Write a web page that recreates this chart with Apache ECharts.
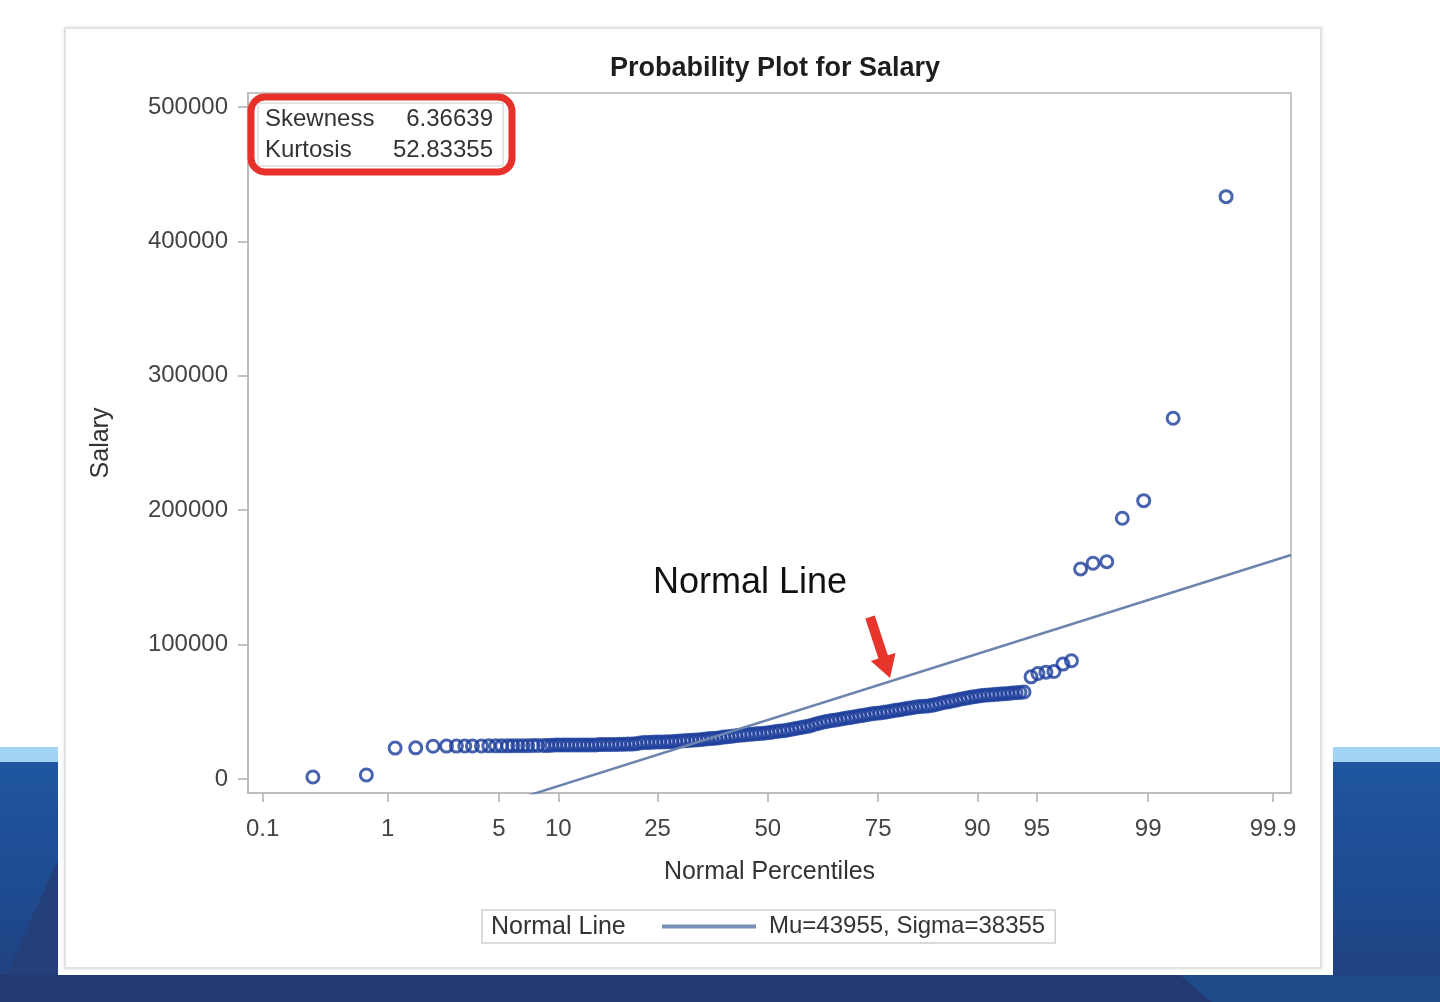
<!DOCTYPE html>
<html>
<head>
<meta charset="utf-8">
<script src="https://cdn.jsdelivr.net/npm/echarts@6/dist/echarts.min.js"></script>
<style>
html,body{margin:0;padding:0;width:1440px;height:1002px;overflow:hidden;background:#fff;}
.abs{position:absolute;}
#stripe{left:0;top:747px;width:1440px;height:15px;background:#a3d4f3;}
#dark{left:0;top:762px;width:1440px;height:240px;background:linear-gradient(180deg,#1f55a0 0%,#1e4b90 55%,#22407c 100%);}
#triL{left:0;top:860px;width:58px;height:142px;background:#24407a;clip-path:polygon(100% 0,100% 100%,0 100%,0 90%);}
#bottom{left:0;top:975px;width:1440px;height:27px;background:#23396f;}
#triR{left:1180px;top:975px;width:260px;height:27px;background:#1f4a8a;clip-path:polygon(0 0,100% 0,100% 100%,12% 100%);}
#panel{left:58px;top:0;width:1275px;height:975px;background:#fff;}
#frame{left:64px;top:27px;width:1254px;height:938px;border:2px solid #e2e2e2;box-shadow:0 0 4px rgba(0,0,0,0.10);background:#fff;}
#chart{left:0;top:0;width:1440px;height:1002px;}
</style>
</head>
<body>
<div class="abs" id="stripe"></div>
<div class="abs" id="dark"></div>
<div class="abs" id="triL"></div>
<div class="abs" id="bottom"></div>
<div class="abs" id="triR"></div>
<div class="abs" id="panel"></div>
<div class="abs" id="frame"></div>
<div class="abs" id="chart"></div>
<script>
// ---------- data ----------
const chartTitle = 'Probability Plot for Salary';
const percentileTicks = [0.1, 1, 5, 10, 25, 50, 75, 90, 95, 99, 99.9];
const salaryTicks = [0, 100000, 200000, 300000, 400000, 500000];
const mu = 43955;
const sigma = 38355;
const skewness = '6.36639';
const kurtosis = '52.83355';
const xRange = [-3.18, 3.20];       // normal quantile range of the plot
const yRange = [-10400, 510400];    // salary range of the plot

const normalScores = [
  -2.783, -2.456, -2.280, -2.154, -2.048, -1.966, -1.905, -1.854, -1.807, -1.752,
  -1.707, -1.665, -1.628, -1.591, -1.561, -1.530, -1.499, -1.469, -1.438, -1.408,
  -1.371, -1.346, -1.322, -1.297, -1.273, -1.248, -1.224, -1.200, -1.175, -1.151,
  -1.126, -1.102, -1.077, -1.053, -1.028, -1.004, -0.979, -0.955, -0.930, -0.906,
  -0.881, -0.857, -0.832, -0.808, -0.783, -0.759, -0.734, -0.710, -0.685, -0.661,
  -0.636, -0.612, -0.588, -0.563, -0.539, -0.514, -0.490, -0.465, -0.441, -0.416,
  -0.392, -0.367, -0.343, -0.318, -0.294, -0.269, -0.245, -0.220, -0.196, -0.171,
  -0.147, -0.122, -0.098, -0.073, -0.049, -0.024, 0.000, 0.024, 0.049, 0.073,
  0.098, 0.122, 0.147, 0.171, 0.196, 0.220, 0.245, 0.269, 0.294, 0.318,
  0.343, 0.367, 0.392, 0.416, 0.441, 0.465, 0.490, 0.514, 0.539, 0.563,
  0.588, 0.612, 0.636, 0.661, 0.685, 0.710, 0.734, 0.759, 0.783, 0.808,
  0.832, 0.857, 0.881, 0.906, 0.930, 0.955, 0.979, 1.004, 1.028, 1.053,
  1.077, 1.102, 1.126, 1.151, 1.175, 1.200, 1.224, 1.248, 1.273, 1.297,
  1.322, 1.346, 1.371, 1.395, 1.420, 1.444, 1.469, 1.493, 1.518, 1.542,
  1.567, 1.610, 1.652, 1.701, 1.750, 1.805, 1.857,
  1.913, 1.989, 2.073, 2.168, 2.299, 2.479, 2.803
];
const salaries = [
  1500, 3000, 23000, 23200, 24400, 24500, 24500, 24600, 24600, 24600,
  24700, 24700, 24700, 24700, 24800, 24800, 24800, 24800, 24900, 24900,
  24900, 24900, 25100, 25300, 25300, 25300, 25300, 25300, 25300, 25300,
  25300, 25300, 25400, 25400, 25600, 25700, 25700, 25700, 25700, 25800,
  25900, 26000, 26000, 26200, 26800, 27200, 27200, 27300, 27500, 27500,
  27500, 27700, 27800, 28100, 28300, 28400, 28600, 28800, 29000, 29200,
  29600, 29900, 30100, 30400, 30700, 31200, 31400, 31800, 32200, 32600,
  32800, 33100, 33300, 33600, 33900, 34100, 34400, 34800, 35300, 35700,
  36000, 36500, 37000, 37600, 38200, 38700, 39200, 40000, 40900, 41700,
  42400, 43000, 43500, 44000, 44500, 45000, 45500, 46000, 46500, 47000,
  47500, 48000, 48500, 48900, 49100, 49600, 50100, 50600, 51100, 51600,
  52100, 52600, 53000, 53600, 53900, 54100, 54300, 54800, 55400, 56200,
  56900, 57400, 58000, 58600, 59300, 59900, 60400, 61000, 61400, 61900,
  62300, 62500, 62700, 63000, 63200, 63500, 63700, 64000, 64200, 64400,
  64700, 76000, 78500, 79500, 80000, 85500, 88000,
  156300, 160500, 161700, 194000, 207100, 268400, 433300
];

// ---------- probability scale helper (inverse normal CDF, Acklam) ----------
function probit(p) {
  const a = [-3.969683028665376e+01, 2.209460984245205e+02, -2.759285104469687e+02, 1.383577518672690e+02, -3.066479806614716e+01, 2.506628277459239e+00];
  const b = [-5.447609879822406e+01, 1.615858368580409e+02, -1.556989798598866e+02, 6.680131188771972e+01, -1.328068155288572e+01];
  const c = [-7.784894002430293e-03, -3.223964580411365e-01, -2.400758277161838e+00, -2.549732539343734e+00, 4.374664141464968e+00, 2.938163982698783e+00];
  const d = [7.784695709041462e-03, 3.224671290700398e-01, 2.445134137142996e+00, 3.754408661907416e+00];
  const pl = 0.02425, ph = 1 - pl;
  let q, r;
  if (p < pl) {
    q = Math.sqrt(-2 * Math.log(p));
    return (((((c[0]*q+c[1])*q+c[2])*q+c[3])*q+c[4])*q+c[5]) / ((((d[0]*q+d[1])*q+d[2])*q+d[3])*q+1);
  } else if (p <= ph) {
    q = p - 0.5; r = q*q;
    return (((((a[0]*r+a[1])*r+a[2])*r+a[3])*r+a[4])*r+a[5])*q / (((((b[0]*r+b[1])*r+b[2])*r+b[3])*r+b[4])*r+1);
  } else {
    q = Math.sqrt(-2 * Math.log(1 - p));
    return -(((((c[0]*q+c[1])*q+c[2])*q+c[3])*q+c[4])*q+c[5]) / ((((d[0]*q+d[1])*q+d[2])*q+d[3])*q+1);
  }
}
const tickZ = percentileTicks.map(p => probit(p / 100));
function pctLabel(v) {
  let best = 0;
  for (let i = 1; i < tickZ.length; i++) if (Math.abs(tickZ[i] - v) < Math.abs(tickZ[best] - v)) best = i;
  return String(percentileTicks[best]);
}

const FONT = '"Liberation Sans", Arial, Helvetica, sans-serif';
const LINE_COLOR = '#6d84ae';
const MARK_COLOR = '#1b3d9b';
const lineName = 'Mu=' + mu + ', Sigma=' + sigma;
const points = normalScores.map((z, i) => [z, salaries[i]]);
const normalLine = xRange.map(z => [z, mu + sigma * z]);

const chart = echarts.init(document.getElementById('chart'), null, {renderer: 'canvas'});
chart.setOption({
  backgroundColor: 'transparent',
  animation: false,
  textStyle: {fontFamily: FONT},
  title: {
    text: chartTitle, left: 770, top: 50, textAlign: 'center',
    textStyle: {fontFamily: FONT, fontSize: 27, fontWeight: 'bold', color: '#1e1e1e'}
  },
  grid: {left: 248, top: 93, width: 1043, height: 700, show: true, borderColor: '#c6c6c6', borderWidth: 2, backgroundColor: 'transparent'},
  xAxis: {
    type: 'value', min: xRange[0], max: xRange[1],
    name: 'Normal Percentiles', nameLocation: 'middle', nameGap: 67,
    nameTextStyle: {fontFamily: FONT, fontSize: 25, color: '#333'},
    axisLine: {show: true, onZero: false, lineStyle: {color: '#bdbdbd', width: 2}},
    axisTick: {show: true, length: 9, customValues: tickZ, lineStyle: {color: '#b0b0b0', width: 1.5}},
    axisLabel: {customValues: tickZ, formatter: pctLabel, margin: 24, fontFamily: FONT, fontSize: 24, color: '#444'},
    splitLine: {show: false}
  },
  yAxis: {
    type: 'value', min: yRange[0], max: yRange[1],
    name: 'Salary', nameLocation: 'middle', nameGap: 134, nameRotate: 90,
    nameTextStyle: {fontFamily: FONT, fontSize: 25, color: '#333'},
    axisLine: {show: true, onZero: false, lineStyle: {color: '#bdbdbd', width: 2}},
    axisTick: {show: true, length: 10, customValues: salaryTicks, lineStyle: {color: '#b0b0b0', width: 1.5}},
    axisLabel: {customValues: salaryTicks, formatter: v => String(v), margin: 20, fontFamily: FONT, fontSize: 24, color: '#444'},
    splitLine: {show: false}
  },
  legend: {
    data: [lineName], left: 482, top: 910, orient: 'horizontal', selectedMode: false,
    icon: 'rect', itemWidth: 94, itemHeight: 4,
    padding: [4.5, 10, 4.5, 180],
    borderColor: '#d0d0d0', borderWidth: 1.5, backgroundColor: '#fff',
    textStyle: {fontFamily: FONT, fontSize: 24, color: '#333', padding: [0, 0, 0, 8]}
  },
  series: [
    {
      type: 'scatter', name: 'Salary', data: points, symbol: 'circle', symbolSize: 12, z: 2,
      itemStyle: {color: 'rgba(0,0,0,0)', borderColor: MARK_COLOR, borderWidth: 3},
      emphasis: {disabled: true}, silent: true
    },
    {
      type: 'line', name: lineName, data: normalLine, symbol: 'none', showSymbol: false, z: 3, clip: true,
      itemStyle: {color: '#7a90b8'},
      lineStyle: {color: LINE_COLOR, width: 2.5}, emphasis: {disabled: true}, silent: true
    }
  ],
  graphic: [
    {type: 'rect', z: 100, shape: {x: 258, y: 103, width: 245, height: 63}, style: {fill: '#fff', stroke: '#c8c8c8', lineWidth: 1}},
    {type: 'text', z: 101, x: 265, y: 119, style: {text: 'Skewness', font: '24px ' + FONT, fill: '#333', textAlign: 'left', textVerticalAlign: 'middle'}},
    {type: 'text', z: 101, x: 493, y: 119, style: {text: skewness, font: '24px ' + FONT, fill: '#333', textAlign: 'right', textVerticalAlign: 'middle'}},
    {type: 'text', z: 101, x: 265, y: 150, style: {text: 'Kurtosis', font: '24px ' + FONT, fill: '#333', textAlign: 'left', textVerticalAlign: 'middle'}},
    {type: 'text', z: 101, x: 493, y: 150, style: {text: kurtosis, font: '24px ' + FONT, fill: '#333', textAlign: 'right', textVerticalAlign: 'middle'}},
    {type: 'rect', z: 102, shape: {x: 251, y: 97, width: 261, height: 75, r: 14}, style: {fill: 'none', stroke: '#e8302a', lineWidth: 7}},
    {type: 'text', z: 101, x: 653, y: 583, style: {text: 'Normal Line', font: '36px ' + FONT, fill: '#111', textAlign: 'left', textVerticalAlign: 'middle'}},
    {type: 'polygon', z: 101, shape: {points: [[865.3,618.6],[874.8,615.4],[887.9,655.3],[895.5,652.9],[890,678],[870.8,661],[878.4,658.5]]}, style: {fill: '#e8352b'}},
    {type: 'text', z: 101, x: 491, y: 927, style: {text: 'Normal Line', font: '25px ' + FONT, fill: '#333', textAlign: 'left', textVerticalAlign: 'middle'}}
  ]
});
</script>
</body>
</html>
